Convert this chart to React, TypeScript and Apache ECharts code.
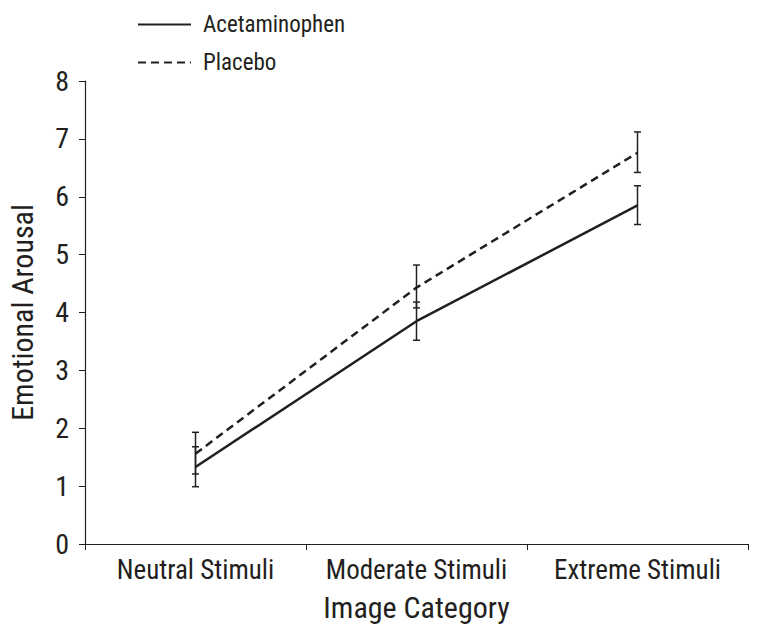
import React, { useEffect, useRef } from "react";
import * as echarts from "echarts";

const categories = ["Neutral Stimuli", "Moderate Stimuli", "Extreme Stimuli"];
const acetaminophen = [1.33, 3.85, 5.85];
const acetaminophenLow = [0.99, 3.52, 5.52];
const acetaminophenHigh = [1.68, 4.18, 6.19];
const placebo = [1.56, 4.43, 6.76];
const placeboLow = [1.21, 4.08, 6.42];
const placeboHigh = [1.93, 4.82, 7.12];
const yTicks = [0, 1, 2, 3, 4, 5, 6, 7, 8];

const FONT = "'Liberation Sans Narrow', 'Roboto Condensed', 'Liberation Sans', sans-serif";
const INK = "#231f20";

function errorSeries(name: string, low: number[], high: number[]) {
  return {
    type: "custom",
    name: name + " err",
    silent: true,
    z: 5,
    data: categories.map((_, i) => [i, low[i], high[i]]),
    renderItem: (params: any, api: any) => {
      const x = api.value(0);
      const lo = api.coord([x, api.value(1)]);
      const hi = api.coord([x, api.value(2)]);
      const cap = 3.5;
      const style = { stroke: INK, lineWidth: 1.5 };
      return {
        type: "group",
        children: [
          { type: "line", shape: { x1: lo[0], y1: lo[1], x2: hi[0], y2: hi[1] }, style },
          { type: "line", shape: { x1: lo[0] - cap, y1: lo[1], x2: lo[0] + cap, y2: lo[1] }, style },
          { type: "line", shape: { x1: hi[0] - cap, y1: hi[1], x2: hi[0] + cap, y2: hi[1] }, style },
        ],
      };
    },
  };
}

export default function App() {
  const ref = useRef<HTMLDivElement>(null);
  useEffect(() => {
    const chart = echarts.init(ref.current!, null, { renderer: "svg" });
    chart.setOption({
      animation: false,
      backgroundColor: "#fff",
      textStyle: { fontFamily: FONT, color: INK },
      legend: {
        orient: "vertical",
        left: 132,
        top: 8,
        itemWidth: 53,
        itemHeight: 20,
        itemGap: 15,
        data: ["Acetaminophen", "Placebo"],
        itemStyle: { opacity: 0 },
        textStyle: { fontFamily: FONT, fontSize: 23, lineHeight: 20, color: INK, padding: [0, 0, 0, 7] },
      },
      grid: { left: 85, right: 9, top: 81, bottom: 91, containLabel: false, outerBoundsMode: "none" },
      xAxis: {
        type: "category",
        data: categories,
        boundaryGap: true,
        axisLine: { lineStyle: { color: INK, width: 1.2 } },
        axisTick: { show: true, length: 6, lineStyle: { color: INK } },
        axisLabel: { fontFamily: FONT, fontSize: 27, color: INK, margin: 12, interval: 0, hideOverlap: false },
        name: "Image Category",
        nameLocation: "middle",
        nameGap: 48,
        nameTextStyle: { fontFamily: FONT, fontSize: 30, color: INK },
      },
      yAxis: {
        type: "value",
        min: yTicks[0],
        max: yTicks[yTicks.length - 1],
        interval: 1,
        splitLine: { show: false },
        axisLine: { show: true, lineStyle: { color: INK, width: 1.2 } },
        axisTick: { show: true, length: 6, lineStyle: { color: INK } },
        axisLabel: { fontFamily: FONT, fontSize: 28, color: INK, margin: 16 },
        name: "Emotional Arousal",
        nameLocation: "middle",
        nameGap: 48,
        nameRotate: 90,
        nameTextStyle: { fontFamily: FONT, fontSize: 30, color: INK },
      },
      series: [
        {
          name: "Acetaminophen",
          type: "line",
          data: acetaminophen,
          symbol: "none",
          lineStyle: { color: INK, width: 2.5, type: "solid" },
          itemStyle: { color: INK },
          z: 3,
        },
        {
          name: "Placebo",
          type: "line",
          data: placebo,
          symbol: "none",
          lineStyle: { color: INK, width: 2.5, type: [8, 5] },
          itemStyle: { color: INK },
          z: 3,
        },
        errorSeries("Acetaminophen", acetaminophenLow, acetaminophenHigh),
        errorSeries("Placebo", placeboLow, placeboHigh),
      ],
    });
    return () => chart.dispose();
  }, []);
  return (
    <div
      ref={ref}
      style={{ position: "absolute", left: 0, top: 0, width: 757, height: 635 }}
    />
  );
}
